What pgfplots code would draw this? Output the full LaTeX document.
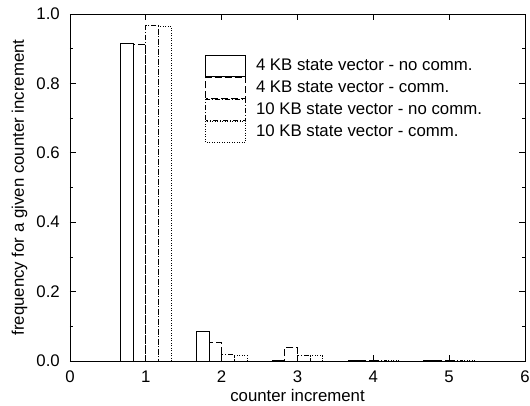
\documentclass[border=0pt]{standalone}
\usepackage{pgfplots}
\pgfplotsset{compat=1.18}
\usepackage{fontspec}
\setmainfont{Liberation Sans}

% gnuplot-like key: one outlined box per entry, stacked with no gap
\pgfplotsset{boxlegend/.style={legend image code/.code={%
    \draw[##1, fill=white] (0pt,-10.5pt) rectangle (40pt,10.5pt);}}}

\begin{document}
\begin{tikzpicture}[font=\fontsize{16.8}{20}\selectfont]
\begin{axis}[
    scale only axis,
    width=455pt, height=347pt,
    xmin=0, xmax=6, ymin=0, ymax=1,
    xtick={0,1,2,3,4,5,6},
    ytick={0,0.2,0.4,0.6,0.8,1},
    minor y tick num=1,
    tick pos=both,
    tick align=inside,
    major tick length=6pt, minor tick length=3pt,
    axis line style={line width=0.8pt},
    every tick/.style={black, line width=0.8pt},
    /pgf/number format/assume math mode=true,
    yticklabel style={/pgf/number format/fixed, /pgf/number format/fixed zerofill,
        /pgf/number format/precision=1, inner sep=0pt, anchor=east, xshift=-10pt},
    xticklabel style={inner sep=0pt, anchor=base, yshift=-21pt},
    xlabel={counter increment},
    ylabel={frequency for a given counter increment},
    x label style={at={(axis description cs:0.5,0)}, anchor=base, yshift=-40.5pt, inner sep=0pt},
    y label style={at={(axis description cs:-0.111,0.5)}, anchor=center, inner sep=0pt},
    legend style={at={(axis description cs:0.2967,0.8818)}, anchor=north west,
        draw=none, fill=none, inner sep=0pt, row sep=0pt, column sep=10pt,
        nodes={inner sep=0pt, text height=12pt, text depth=3pt}},
    legend cell align=left,
]
\addplot[ybar, bar width=0.1667, bar shift=-0.25, black, line width=0.8pt, fill=none, boxlegend]
    coordinates {(1,0.915) (2,0.086) (3,0.002) (4,0.001) (5,0.001)};
\addlegendentry{4 KB state vector - no comm.}
\addplot[ybar, bar width=0.1667, bar shift=-0.0833, black, line width=0.8pt, fill=none,
    dash pattern=on 7pt off 3pt, boxlegend]
    coordinates {(1,0.912) (2,0.053) (3,0.038) (4,0.001) (5,0.001)};
\addlegendentry{4 KB state vector - comm.}
\addplot[ybar, bar width=0.1667, bar shift=0.0833, black, line width=0.8pt, fill=none,
    dash pattern=on 5pt off 2pt on 1pt off 2pt, boxlegend]
    coordinates {(1,0.966) (2,0.018) (3,0.017) (4,0.002) (5,0.001)};
\addlegendentry{10 KB state vector - no comm.}
\addplot[ybar, bar width=0.1667, bar shift=0.25, black, line width=0.8pt, fill=none,
    dash pattern=on 1pt off 1.5pt, boxlegend]
    coordinates {(1,0.965) (2,0.016) (3,0.015) (4,0.002) (5,0.002)};
\addlegendentry{10 KB state vector - comm.}
\end{axis}
\pgfresetboundingbox
\path[use as bounding box] (-70pt,-44pt) rectangle (460pt,361pt);
\end{tikzpicture}
\end{document}
